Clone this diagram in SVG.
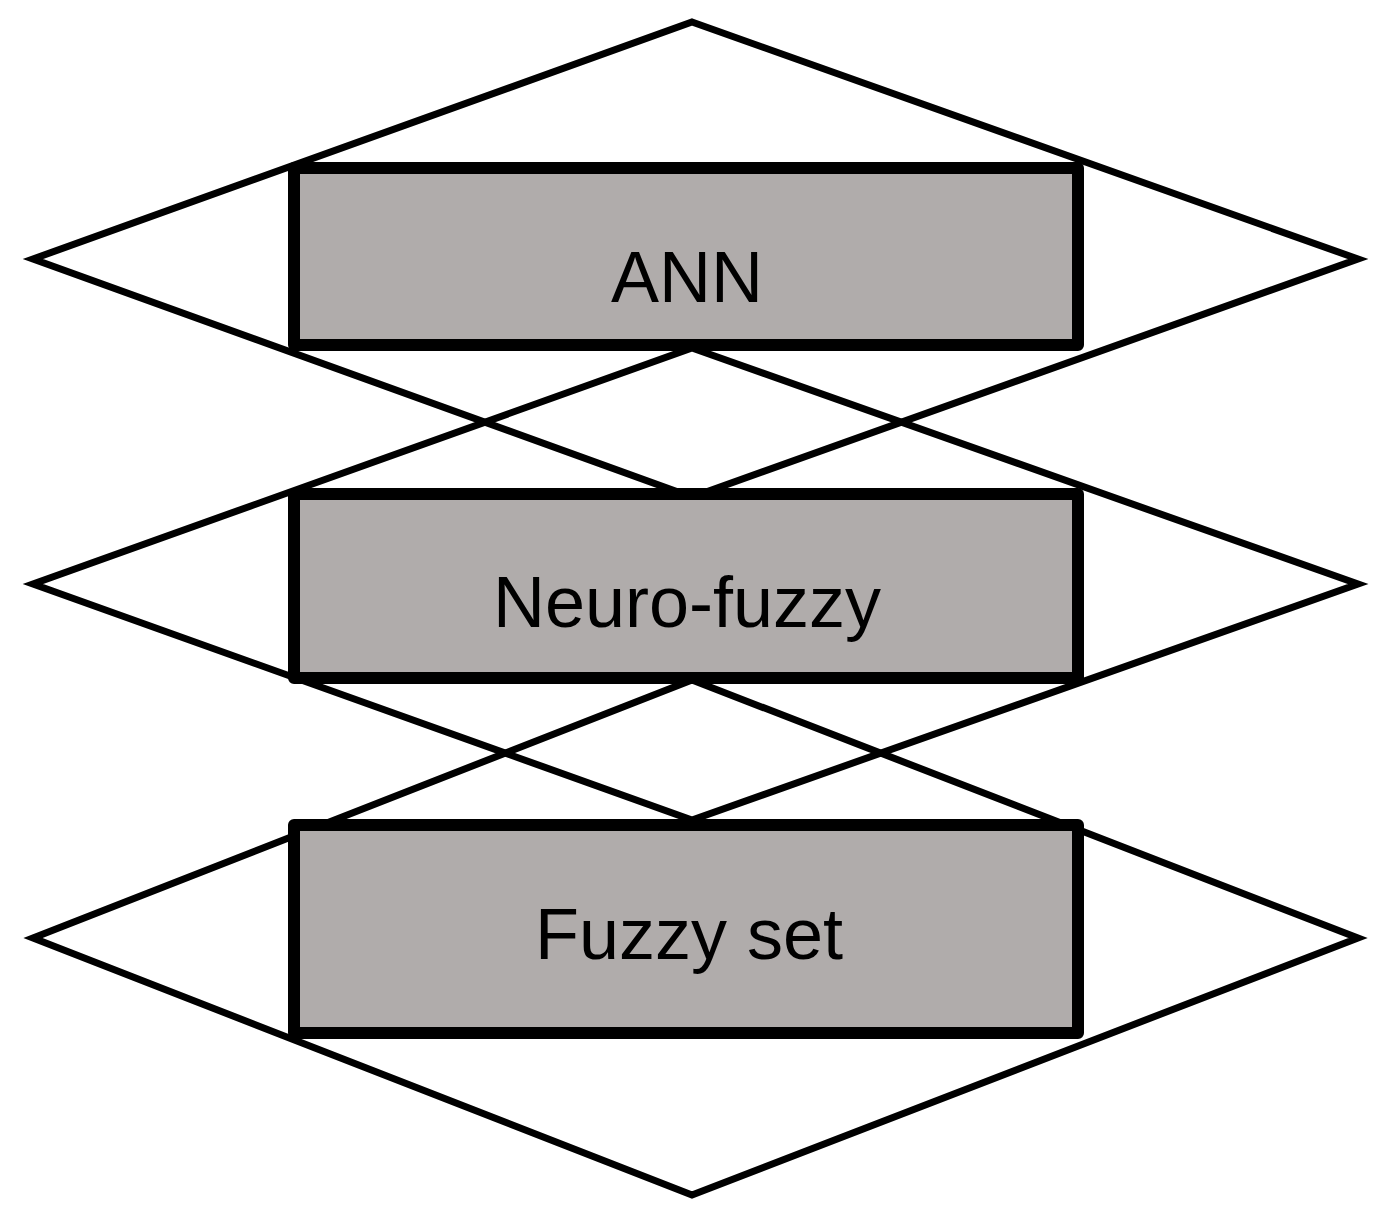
<svg xmlns="http://www.w3.org/2000/svg" width="1387" height="1219" viewBox="0 0 1387 1219">
<style>
.d{fill:none;stroke:#000;stroke-width:7;stroke-linejoin:miter}
.r{fill:#b0acab;stroke:#000;stroke-width:12;stroke-linejoin:round}
.t{font-family:"Liberation Sans",Arial,sans-serif;font-size:72px;text-anchor:middle;fill:#000}
</style>
<rect width="1387" height="1219" fill="#fff"/>
<g id="connectors">
<polygon class="d" points="692,22 1358,259 692,497 33,259"/>
<polygon class="d" points="692,348 1358,584 692,820 33,584"/>
<polygon class="d" points="692,680 1358,938 692,1195 33,938"/>
</g>
<g id="ann"><rect class="r" x="294" y="168" width="784" height="177"/><text class="t" x="687" y="302">ANN</text></g>
<g id="neurofuzzy"><rect class="r" x="294" y="494" width="784" height="184"/><text class="t" x="687" y="627">Neuro-fuzzy</text></g>
<g id="fuzzyset"><rect class="r" x="294" y="825" width="784" height="208"/><text class="t" x="689" y="959">Fuzzy set</text></g>
</svg>
